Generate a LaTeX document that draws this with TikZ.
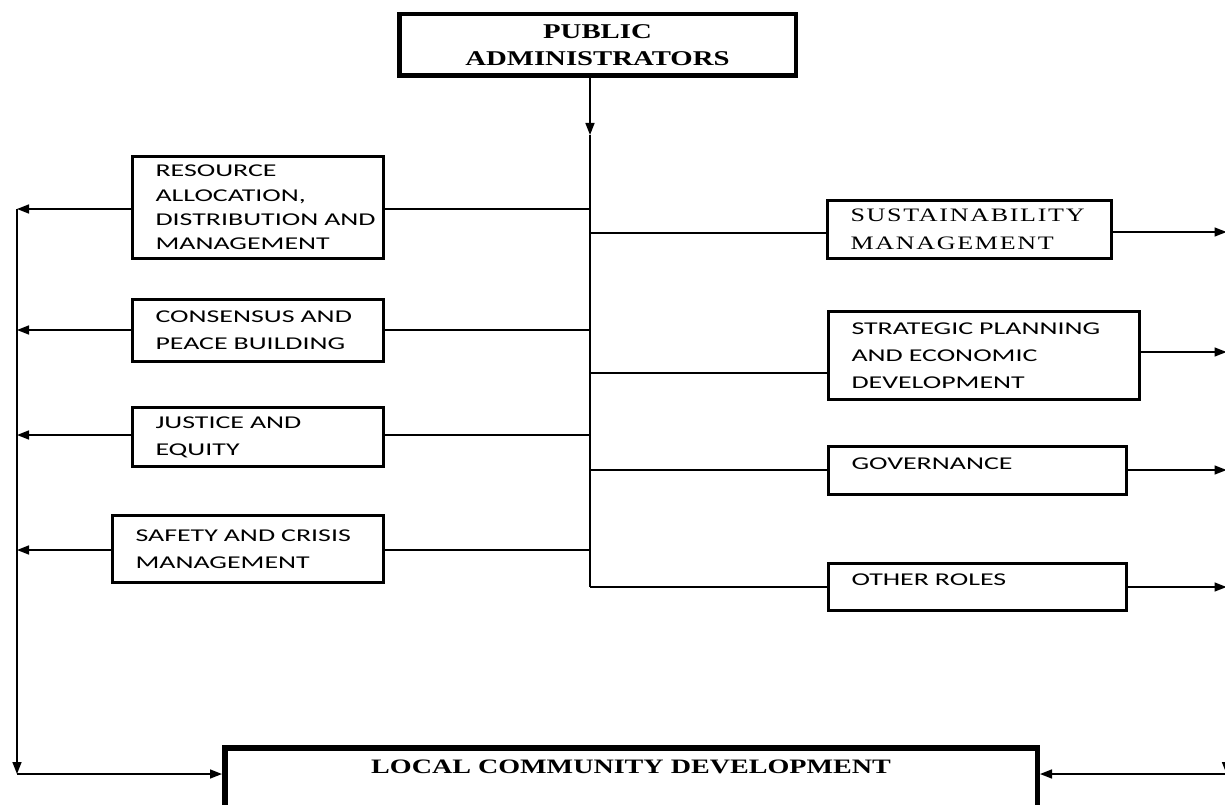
\documentclass[tikz,border=0pt]{standalone}
\usepackage{fontspec}
\usepackage{graphicx}
\usetikzlibrary{arrows.meta,calc}
\newfontfamily\boxsans[FakeStretch=1.55]{Carlito}
\newfontfamily\titleserif[FakeStretch=1.37]{Liberation Serif}
\newfontfamily\sustserif[FakeStretch=1.37,LetterSpace=9]{Liberation Serif}
\tikzset{
  x=1pt, y=-1pt,
  role/.style={draw, line width=3pt, rectangle, inner xsep=23pt, inner ysep=0pt,
    align=left, font=\boxsans\fontsize{18}{27}\selectfont},
  mainbox/.style={draw, rectangle, inner sep=0pt, align=center,
    font=\titleserif\bfseries},
  link/.style={line width=1.5pt},
  arr/.style={link, -{Triangle[length=12pt,width=9pt]}}
}
\begin{document}
\begin{tikzpicture}
\useasboundingbox (0,0) rectangle (1225,805);
% top and bottom boxes
\node[mainbox, line width=4.5pt, minimum width=396.5pt, minimum height=61.5pt,
  font=\titleserif\bfseries\fontsize{21}{26.5}\selectfont] (pa) at (597.5,45)
  {PUBLIC\\ADMINISTRATORS};
\node[mainbox, line width=5.5pt, minimum width=812.5pt, minimum height=61.5pt,
  text height=14pt, text depth=23.4pt,
  font=\titleserif\bfseries\fontsize{20.5}{24}\selectfont] (lcd) at (631,778.5)
  {LOCAL COMMUNITY DEVELOPMENT};
% left role boxes
\node[role, minimum width=251pt, minimum height=102pt, text width=205pt,
  font=\boxsans\fontsize{18}{24.3}\selectfont] (res) at (258,207.5)
  {RESOURCE\\ALLOCATION,\\DISTRIBUTION~AND\\MANAGEMENT};
\node[role, minimum width=251pt, minimum height=62pt, text width=205pt] (con) at (258,330.5)
  {CONSENSUS~AND\\PEACE~BUILDING};
\node[role, minimum width=251pt, minimum height=59pt, text width=205pt] (jus) at (258,437)
  {JUSTICE~AND\\EQUITY};
\node[role, minimum width=271pt, minimum height=67pt, text width=225pt] (saf) at (248,549)
  {SAFETY~AND~CRISIS\\MANAGEMENT};
% right role boxes
\node[role, minimum width=284pt, minimum height=58pt, text width=238pt,
  font=\sustserif\fontsize{19}{28}\selectfont] (sus) at (969.5,229.5)
  {SUSTAINABILITY\\MANAGEMENT};
\node[role, minimum width=311pt, minimum height=88pt, text width=265pt] (str) at (984,355.5)
  {STRATEGIC~PLANNING\\AND~ECONOMIC\\DEVELOPMENT};
\node[role, minimum width=298pt, minimum height=48pt, text width=252pt,
  text height=12pt, text depth=14.4pt] (gov) at (977.5,470.5)
  {GOVERNANCE};
\node[role, minimum width=298pt, minimum height=47pt, text width=252pt,
  text height=12pt, text depth=14.4pt] (oth) at (977.5,587)
  {OTHER~ROLES};
% coordinates
\coordinate (tarr) at (590,135);
\coordinate (tbot) at (590,587);
\coordinate (jres) at (590,209);
\coordinate (jcon) at (590,330);
\coordinate (jjus) at (590,435);
\coordinate (jsaf) at (590,550);
\coordinate (jsus) at (590,233);
\coordinate (jstr) at (590,373);
\coordinate (jgov) at (590,470);
\coordinate (lres) at (17,209);
\coordinate (lcon) at (17,330);
\coordinate (ljus) at (17,435);
\coordinate (lsaf) at (17,550);
\coordinate (lbot) at (17,774);
\coordinate (rsus) at (1226.5,232);
\coordinate (rstr) at (1226.5,352);
\coordinate (rgov) at (1226.5,470);
\coordinate (roth) at (1226.5,587);
\coordinate (rbot) at (1226.5,774);
% trunk
\draw[arr] (pa.south -| tbot) -- (tarr);
\draw[link] (tarr) -- (tbot);
% left side to trunk
\draw[link] (res.east |- jres) -- (jres);
\draw[link] (con.east |- jcon) -- (jcon);
\draw[link] (jus.east |- jjus) -- (jjus);
\draw[link] (saf.east |- jsaf) -- (jsaf);
% trunk to right side
\draw[link] (jsus) -- (sus.west |- jsus);
\draw[link] (jstr) -- (str.west |- jstr);
\draw[link] (jgov) -- (gov.west |- jgov);
\draw[link] (tbot) -- (oth.west |- tbot);
% left outputs
\draw[arr] (res.west |- lres) -- (lres);
\draw[arr] (con.west |- lcon) -- (lcon);
\draw[arr] (jus.west |- ljus) -- (ljus);
\draw[arr] (saf.west |- lsaf) -- (lsaf);
\draw[arr] (lres) -- (lbot);
\draw[arr] (lbot) -- (lcd.west |- lbot);
% right outputs
\draw[arr] (sus.east |- rsus) -- (rsus);
\draw[arr] (str.east |- rstr) -- (rstr);
\draw[arr] (gov.east |- rgov) -- (rgov);
\draw[arr] (oth.east |- roth) -- (roth);
\draw[arr] (rsus) -- (rbot);
\draw[arr] (rbot) -- (lcd.east |- rbot);
\end{tikzpicture}
\end{document}
